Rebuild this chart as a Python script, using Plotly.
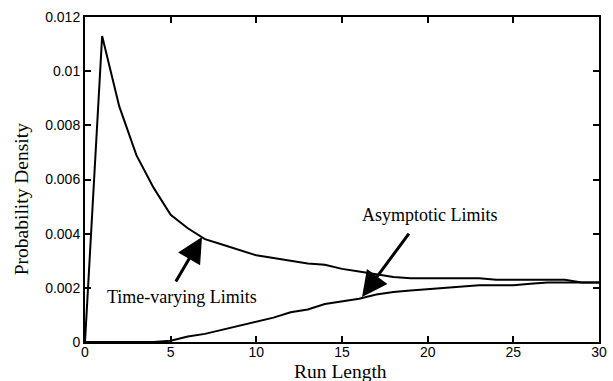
import plotly.graph_objects as go

run_length = list(range(0, 31))
time_varying = [0, 0.0113, 0.0087, 0.0069, 0.0057, 0.0047, 0.0042, 0.0038, 0.0036, 0.0034,
                0.0032, 0.0031, 0.0030, 0.0029, 0.00285, 0.0027, 0.0026, 0.0025, 0.0024, 0.00235,
                0.00235, 0.00235, 0.00235, 0.00235, 0.0023, 0.0023, 0.0023, 0.0023, 0.0023, 0.0022, 0.0022]
asymptotic = [0, 0, 0, 0, 0, 0.00005, 0.0002, 0.0003, 0.00045, 0.0006,
              0.00075, 0.0009, 0.0011, 0.0012, 0.0014, 0.0015, 0.0016, 0.00175, 0.00185, 0.0019,
              0.00195, 0.002, 0.00205, 0.0021, 0.0021, 0.0021, 0.00215, 0.0022, 0.0022, 0.0022, 0.0022]
x_ticks = [0, 5, 10, 15, 20, 25, 30]
y_ticks = [0, 0.002, 0.004, 0.006, 0.008, 0.01, 0.012]
y_tick_labels = ["0", "0.002", "0.004", "0.006", "0.008", "0.01", "0.012"]

fig = go.Figure()
fig.add_trace(go.Scatter(x=run_length, y=time_varying, mode="lines",
                         line=dict(color="black", width=2), showlegend=False))
fig.add_trace(go.Scatter(x=run_length, y=asymptotic, mode="lines",
                         line=dict(color="black", width=2), showlegend=False))

serif = "Liberation Serif, Times New Roman, serif"
sans = "Liberation Sans, Arial, sans-serif"

axis_common = dict(showgrid=False, zeroline=False, showline=True, linecolor="black",
                   linewidth=2, mirror="ticks", ticks="inside", ticklen=6, tickwidth=1.5,
                   tickcolor="black", automargin=False,
                   tickfont=dict(family=sans, size=14, color="black"))

fig.update_xaxes(range=[0, 30], tickvals=x_ticks, ticklabelstandoff=-4, **axis_common)
fig.update_yaxes(range=[0, 0.012], tickvals=y_ticks, ticktext=y_tick_labels, **axis_common)

# axis titles
fig.add_annotation(x=0.498, y=-0.091, xref="paper", yref="paper", text="Run Length", showarrow=False,
                   xanchor="center", yanchor="middle", font=dict(family=serif, size=19.5, color="black"))
fig.add_annotation(x=-0.124, y=0.44, xref="paper", yref="paper", text="Probability Density",
                   showarrow=False, textangle=-90, xanchor="center", yanchor="middle",
                   font=dict(family=serif, size=19.5, color="black"))

fig.add_annotation(x=6.83, y=0.00388, ax=5.25, ay=0.00218, xref="x", yref="y", axref="x", ayref="y",
                   text="", showarrow=True, arrowhead=2, arrowsize=1.7, arrowwidth=3, arrowcolor="black")
fig.add_annotation(x=16.17, y=0.00166, ax=18.97, ay=0.00406, xref="x", yref="y", axref="x", ayref="y",
                   text="", showarrow=True, arrowhead=2, arrowsize=1.7, arrowwidth=3, arrowcolor="black")
fig.add_annotation(x=5.66, y=0.00166, xref="x", yref="y", text="Time-varying Limits", showarrow=False,
                   font=dict(family=serif, size=18, color="black"))
fig.add_annotation(x=20.14, y=0.00469, xref="x", yref="y", text="Asymptotic Limits", showarrow=False,
                   font=dict(family=serif, size=18, color="black"))

fig.update_layout(width=613, height=381, margin=dict(l=85, r=14, t=17, b=39),
                  plot_bgcolor="white", paper_bgcolor="white")

fig.write_html("out.html")
